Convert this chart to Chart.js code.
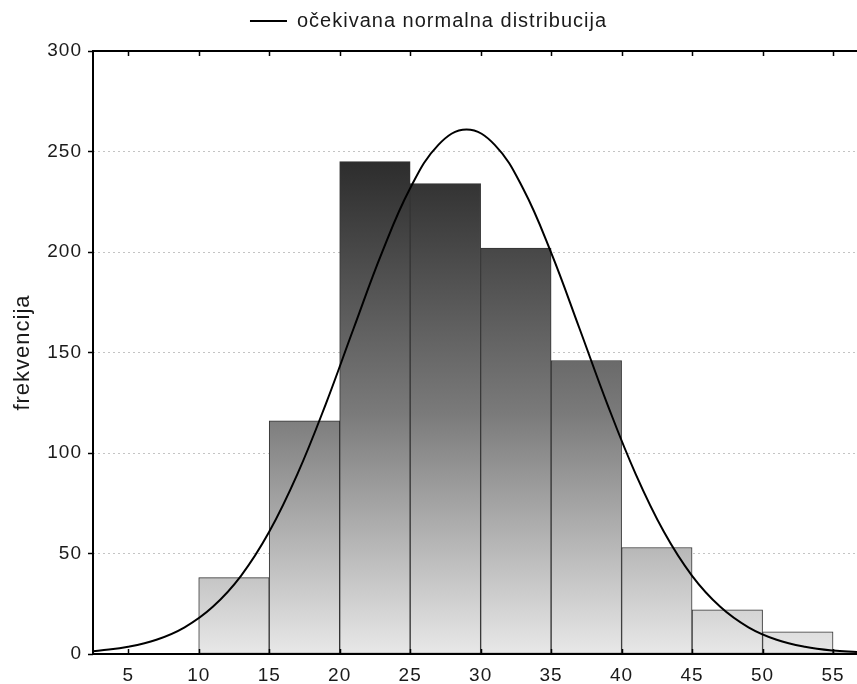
<!DOCTYPE html>
<html>
<head>
<meta charset="utf-8">
<script src="https://cdn.jsdelivr.net/npm/chart.js@4.4.1/dist/chart.umd.min.js"></script>
<style>
  body { margin: 0; background: #fff; }
  #c { display: block; }
</style>
</head>
<body>
<canvas id="c" width="857" height="684"></canvas>
<script>
// histogram bins (lower edge, width 5) and frequencies
const binLow = [10, 15, 20, 25, 30, 35, 40, 45, 50, 55];
const freq = [38, 116, 245, 234, 202, 146, 53, 22, 11, 1];
const binWidth = 5;

// expected normal curve, read point by point
const curveX = [2.5, 3, 5, 7, 9, 11, 13, 15, 17, 19, 21, 23, 25, 27, 29, 31, 33, 35, 37, 39, 41, 43, 45, 47, 49, 51, 53, 55, 56.7];
const curveY = [1.4, 1.7, 3.6, 7.1, 13.3, 23.5, 38.9, 60.8, 89.5, 124.1, 162.2, 199.7, 231.7, 253.3, 261, 253.3, 231.7, 199.7, 162.2, 124.1, 89.5, 60.8, 38.9, 23.5, 13.3, 7.1, 3.6, 1.7, 1.0];

const xTicks = [5, 10, 15, 20, 25, 30, 35, 40, 45, 50, 55];
const yTicks = [0, 50, 100, 150, 200, 250, 300];

const FONT = "'Liberation Sans', Arial, sans-serif";
const TXT = '#1a1a1a';

// bars share one vertical gradient over the plot area
function barFill(ctx) {
    const a = ctx.chart.chartArea;
    if (!a) return '#888';
    const g = ctx.chart.ctx.createLinearGradient(0, a.top, 0, a.bottom);
    g.addColorStop(0, '#1e1e1e');
    g.addColorStop(0.18, '#2c2c2c');
    g.addColorStop(0.6, '#7a7a7a');
    g.addColorStop(1, '#e8e8e8');
    return g;
}

// wider text like the original
const spacing = {
    id: 'spacing',
    beforeUpdate(c) { c.ctx.letterSpacing = '1px'; },
    beforeDraw(c) { c.ctx.letterSpacing = '1px'; }
};

// lift the legend a bit so the plot starts lower
const legendShift = {
    id: 'legendShift',
    afterLayout(c) {
        if (c.legend) { c.legend.top -= 10; c.legend.bottom -= 10; }
    }
};

// frame on top of bars + inward x ticks top and bottom
const frame = {
    id: 'frame',
    afterDatasetsDraw(chart) {
        const { ctx, chartArea: a, scales: { x } } = chart;
        ctx.save();
        ctx.strokeStyle = '#000';
        ctx.lineWidth = 2;
        ctx.beginPath();
        ctx.moveTo(a.right + 2, a.top);
        ctx.lineTo(a.left, a.top);
        ctx.lineTo(a.left, a.bottom);
        ctx.lineTo(a.right + 2, a.bottom);
        ctx.stroke();
        ctx.lineWidth = 1.5;
        ctx.beginPath();
        x.ticks.forEach(t => {
            const px = Math.round(x.getPixelForValue(t.value)) + 0.5;
            ctx.moveTo(px, a.top);
            ctx.lineTo(px, a.top + 5);
            ctx.moveTo(px, a.bottom);
            ctx.lineTo(px, a.bottom - 5);
        });
        ctx.stroke();
        ctx.restore();
    }
};

new Chart(document.getElementById('c'), {
    type: 'bar',
    data: {
        datasets: [{
            type: 'bar',
            label: 'frekvencija',
            data: binLow.map((b, i) => ({ x: b + binWidth / 2, y: freq[i] })),
            backgroundColor: barFill,
            borderColor: '#333',
            borderWidth: 1,
            borderSkipped: false,
            barPercentage: 1,
            categoryPercentage: 1,
            order: 2
        }, {
            type: 'line',
            label: 'očekivana normalna distribucija',
            data: curveX.map((v, i) => ({ x: v, y: curveY[i] })),
            borderColor: '#000',
            backgroundColor: '#000',
            borderWidth: 2,
            pointRadius: 0,
            tension: 0.4,
            fill: false,
            order: 1
        }]
    },
    options: {
        responsive: false,
        animation: false,
        devicePixelRatio: 1,
        layout: { padding: { top: 11, left: 0, right: 0, bottom: 0 } },
        plugins: {
            tooltip: { enabled: false },
            legend: {
                position: 'top',
                labels: {
                    boxWidth: 37,
                    boxHeight: 2,
                    padding: 10,
                    color: TXT,
                    font: { family: FONT, size: 20 },
                    generateLabels(chart) {
                        return Chart.defaults.plugins.legend.labels.generateLabels(chart)
                            .filter(l => l.datasetIndex === 1)
                            .map(l => ({ ...l, lineWidth: 0 }));
                    }
                }
            }
        },
        scales: {
            x: {
                type: 'linear',
                offset: false,
                min: 2.5,
                max: 56.7,
                afterBuildTicks: s => { s.ticks = xTicks.map(v => ({ value: v })); },
                afterFit: s => { s.height = 30; },
                grid: { offset: false, drawOnChartArea: false, drawTicks: false },
                border: { display: false },
                ticks: { color: TXT, padding: 10, font: { family: FONT, size: 19 } }
            },
            y: {
                min: 0,
                max: 300,
                afterBuildTicks: s => { s.ticks = yTicks.map(v => ({ value: v })); },
                afterFit: s => { s.width = 93; },
                grid: { color: '#c4c4c4', lineWidth: 1, tickColor: '#000', tickLength: 5, tickWidth: 1.5 },
                border: { display: false, dash: [2, 3] },
                ticks: { color: TXT, padding: 6, font: { family: FONT, size: 19 } },
                title: {
                    display: true,
                    text: 'frekvencija',
                    color: TXT,
                    font: { family: FONT, size: 22 },
                    padding: { top: 10, bottom: 0 }
                }
            }
        }
    },
    plugins: [spacing, legendShift, frame]
});
</script>
</body>
</html>
